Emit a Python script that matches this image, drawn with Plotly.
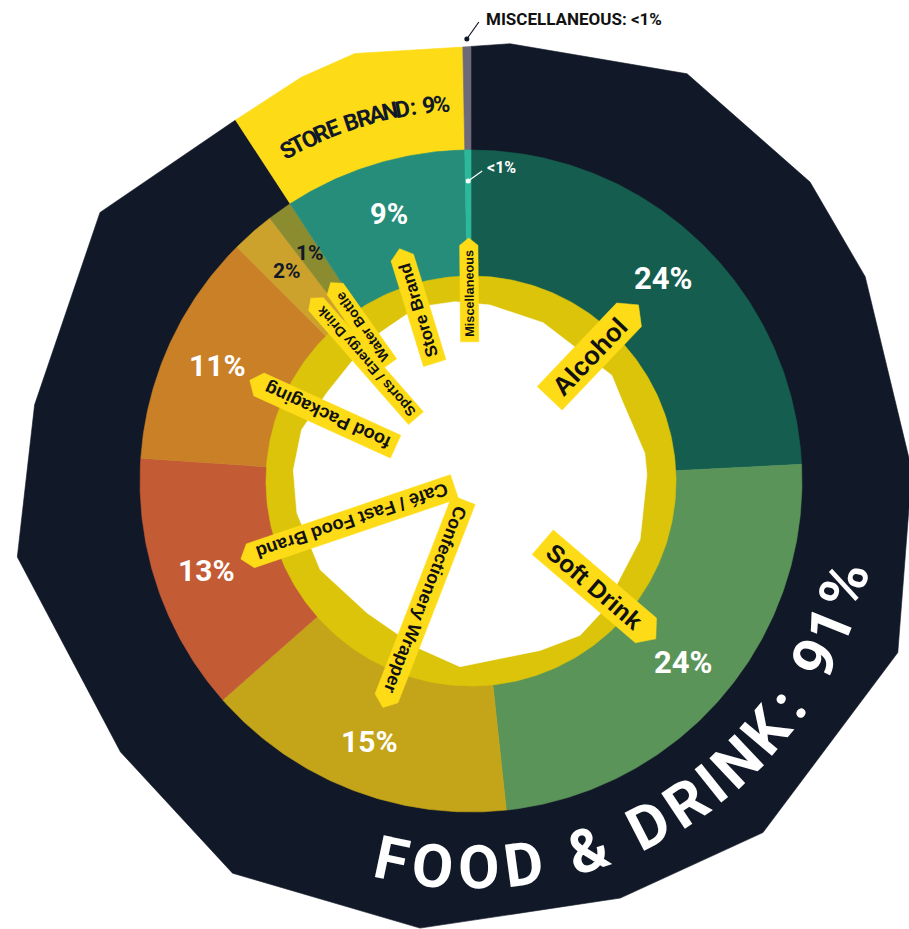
import math
import plotly.graph_objects as go

# ---------------- data ----------------
categories = ["Alcohol", "Soft Drink", "Confectionery Wrapper", "Café / Fast Food Brand",
              "food Packaging", "Sports / Energy Drink", "Water Bottle", "Store Brand",
              "Miscellaneous"]
shares = [24.2, 24.1, 15.2, 12.6, 11.4, 2.1, 1.2, 8.9, 0.3]
category_group = ["Food & Drink"] * 7 + ["Store Brand", "Miscellaneous"]

groups = ["Food & Drink", "Store Brand", "Miscellaneous"]
group_shares = [round(sum(s for s, g in zip(shares, category_group) if g == name), 1)
                for name in groups]

# ---------------- style ----------------
CX, CY = 471, 481          # centre of the wheel (px)
R_HOLE = 205               # outer radius of the yellow ring
R_RING = 331               # outer radius of the category ring
R_TAG_TIP = 243            # radius where the name tags point to
R_PCT = 279                # radius of the percentage labels

NAVY = "#111827"
TAG_YELLOW = "#fddc17"
RING_YELLOW = "#dbc40a"
DISPLAY_FONT = "Roboto"

category_colors = ["#155e4f", "#5a9459", "#c4a418", "#c35b35", "#c98026",
                   "#cca22c", "#8b8b30", "#258d7a", "#2cb89a"]
pct_colors = ["white", "white", "white", "white", "white", NAVY, NAVY, "white", "white"]
pct_sizes = [31, 31, 30, 30, 30, 21, 21, 29, 16]
tag_font_sizes = [26, 24.5, 18, 18.4, 18.3, 13.8, 13.9, 17, 12.7]
group_colors = [NAVY, TAG_YELLOW, "#6e6a78"]

# hand-cut outer border: (angle clockwise from 12 o'clock, radius)
OUTER_EDGE = [(5.1, 439), (27.95, 461), (48.6, 452), (62.6, 444), (88.6, 441),
              (111.9, 460), (140.3, 457), (160.3, 443), (186.5, 450), (211.3, 459),
              (232.3, 443), (260.5, 460), (279.9, 443), (305.9, 458), (326.9, 431),
              (337.2, 438), (344.8, 443), (358.7, 434)]
# hand-cut white centre
INNER_EDGE = [(6.2, 177), (24.5, 174), (53.1, 176), (62.5, 171), (80.9, 176), (88, 176),
              (109.2, 179), (134.3, 185), (144.7, 189), (157.8, 183), (183.4, 186),
              (198, 175), (218.2, 168), (239.5, 175), (259.6, 177), (273.5, 178),
              (286.8, 177), (301.4, 169), (315.7, 169), (328.4, 174), (342.8, 182),
              (354.9, 180)]

# Arial/Liberation Sans Bold advance widths (1/1000 em)
BOLD_W = {' ': 278, '/': 278, '&': 722, ':': 333, '%': 889, '<': 584,
          'A': 722, 'B': 722, 'C': 722, 'D': 722, 'E': 667, 'F': 611, 'I': 278,
          'K': 722, 'L': 611, 'M': 833, 'N': 722, 'O': 778, 'P': 667, 'R': 722,
          'S': 667, 'T': 611, 'U': 722, 'W': 944,
          'a': 556, 'b': 611, 'c': 556, 'd': 611, 'e': 556, 'f': 333, 'g': 611,
          'h': 611, 'i': 278, 'k': 556, 'l': 278, 'n': 611, 'o': 611, 'p': 611,
          'r': 389, 's': 556, 't': 333, 'u': 611, 'y': 556, 'é': 556}


def text_width(s, size):
    return sum(BOLD_W.get(c, 556) for c in s) / 1000 * size


def fmt_pct(v):
    return "<1%" if v < 1 else f"{round(v)}%"


def polar(theta, r):
    t = math.radians(theta)
    return CX + r * math.sin(t), CY - r * math.cos(t)


def arc(t0, t1, r, step=0.5):
    n = max(2, int(abs(t1 - t0) / step) + 1)
    return [polar(t0 + (t1 - t0) * i / (n - 1), r) for i in range(n)]


def edge_point(knots, theta):
    ks = sorted(knots)
    ext = [(ks[-1][0] - 360, ks[-1][1])] + ks + [(ks[0][0] + 360, ks[0][1])]
    th = theta % 360
    if theta >= 360:
        th = 360
    for (a0, r0), (a1, r1) in zip(ext[:-1], ext[1:]):
        if a0 <= th <= a1:
            x0, y0 = polar(a0, r0)
            x1, y1 = polar(a1, r1)
            dx, dy = math.sin(math.radians(th)), -math.cos(math.radians(th))
            ex, ey = x1 - x0, y1 - y0
            rx, ry = x0 - CX, y0 - CY
            det = -dx * ey + dy * ex
            s = (-rx * ey + ry * ex) / det
            return CX + s * dx, CY + s * dy
    return polar(theta, ks[0][1])


def edge_path(knots, t0, t1):
    pts = [edge_point(knots, t0)]
    pts += [polar(a, r) for a, r in sorted(knots) if t0 < a < t1]
    pts.append(edge_point(knots, t1))
    return pts


def poly_trace(pts, color):
    xs = [p[0] for p in pts] + [pts[0][0]]
    ys = [p[1] for p in pts] + [pts[0][1]]
    return go.Scatter(x=xs, y=ys, mode="lines", fill="toself", fillcolor=color,
                      line=dict(color=color, width=0.6), hoverinfo="skip",
                      showlegend=False)


def norm_angle(a):
    return (a + 180) % 360 - 180


fig = go.Figure()
annotations = []

# ---- angular extents from the shares ----
total = sum(shares)
cat_bounds = []
acc = 0.0
for v in shares:
    t0 = acc / total * 360
    acc += v
    cat_bounds.append((t0, acc / total * 360))

grp_bounds = []
acc = 0.0
for v in group_shares:
    t0 = acc / total * 360
    acc += v
    grp_bounds.append((t0, acc / total * 360))

# ---- outer ring: groups ----
for (t0, t1), color in zip(grp_bounds, group_colors):
    pts = arc(t0, t1, R_RING - 1) + edge_path(OUTER_EDGE, t0, t1)[::-1]
    fig.add_trace(poly_trace(pts, color))

# ---- category ring ----
for (t0, t1), color in zip(cat_bounds, category_colors):
    pts = arc(t0, t1, R_RING) + arc(t1, t0, R_HOLE - 2)
    fig.add_trace(poly_trace(pts, color))

# ---- yellow ring and white centre ----
fig.add_trace(poly_trace(arc(0, 360, R_HOLE, step=1), RING_YELLOW))
fig.add_trace(poly_trace([polar(a, r) for a, r in sorted(INNER_EDGE)], "white"))

# ---- name tags ----
for name, (t0, t1), fs in zip(categories, cat_bounds, tag_font_sizes):
    mid = (t0 + t1) / 2
    w = text_width(name, fs)
    half = fs * 0.6 + 1.5
    tip = half * 0.8
    pad = fs * 0.38
    r_out = R_TAG_TIP - tip
    r_in = r_out - w - 2 * pad
    t = math.radians(mid)
    nx, ny = math.cos(t), math.sin(t)
    a_in = polar(mid, r_in)
    a_out = polar(mid, r_out)
    a_tip = polar(mid, R_TAG_TIP)
    pts = [(a_in[0] + half * nx, a_in[1] + half * ny),
           (a_out[0] + half * nx, a_out[1] + half * ny),
           a_tip,
           (a_out[0] - half * nx, a_out[1] - half * ny),
           (a_in[0] - half * nx, a_in[1] - half * ny)]
    fig.add_trace(poly_trace(pts, TAG_YELLOW))
    cx, cy = polar(mid, (r_in + r_out) / 2)
    annotations.append(dict(x=cx, y=cy, text=name, showarrow=False,
                            textangle=norm_angle(mid - 90),
                            xanchor="center", yanchor="middle",
                            font=dict(family="Liberation Sans, Arial", size=fs,
                                      color="#111111", weight="bold")))

# ---- category percentages ----
for (t0, t1), v, col, fs in zip(cat_bounds, shares, pct_colors, pct_sizes):
    mid = (t0 + t1) / 2
    if v < 1:
        dot = polar(mid, 300)
        end = (dot[0] + 14, dot[1] - 10)
        fig.add_trace(go.Scatter(x=[dot[0], end[0]], y=[dot[1], end[1]], mode="lines",
                                 line=dict(color="white", width=1.2), hoverinfo="skip",
                                 showlegend=False))
        fig.add_trace(go.Scatter(x=[dot[0]], y=[dot[1]], mode="markers",
                                 marker=dict(color="white", size=5), hoverinfo="skip",
                                 showlegend=False))
        annotations.append(dict(x=end[0] + 3, y=end[1] - 4, text=fmt_pct(v), showarrow=False,
                                xanchor="left", yanchor="middle",
                                font=dict(family=DISPLAY_FONT, size=fs, color=col,
                                          weight="bold")))
        continue
    x, y = polar(mid, R_PCT)
    annotations.append(dict(x=x, y=y, text=fmt_pct(v), showarrow=False,
                            xanchor="center", yanchor="middle",
                            font=dict(family=DISPLAY_FONT, size=fs, color=col,
                                      weight="bold")))


# ---- curved group titles ----
def curved_text(text, a_first, a_last, radius, size, color, inward, tracking):
    adv = [BOLD_W.get(c, 556) / 1000 * size + tracking for c in text]
    centres = []
    acc = 0.0
    for a in adv:
        centres.append(acc + a / 2)
        acc += a
    span = centres[-1] - centres[0]
    for ch, c in zip(text, centres):
        if ch == " ":
            continue
        theta = a_first + (a_last - a_first) * (c - centres[0]) / span
        x, y = polar(theta, radius)
        rot = theta - 180 if inward else theta
        annotations.append(dict(x=x, y=y, text=ch, showarrow=False,
                                textangle=norm_angle(rot),
                                xanchor="center", yanchor="middle",
                                font=dict(family=DISPLAY_FONT, size=size, color=color,
                                          weight="bold")))


curved_text(f"{groups[0].upper()}: {fmt_pct(group_shares[0])}", 191.9, 105.6, 387,
            60, "white", True, 12)
curved_text(f"{groups[1].upper()}: {fmt_pct(group_shares[1])}", 331.0, 355.5, 378,
            23, NAVY, False, 4)

# ---- miscellaneous call-out above the wheel ----
m0, m1 = grp_bounds[2]
dot = polar((m0 + m1) / 2, 442)
end = (dot[0] + 12, dot[1] - 17)
fig.add_trace(go.Scatter(x=[dot[0], end[0]], y=[dot[1], end[1]], mode="lines",
                         line=dict(color=NAVY, width=1.2), hoverinfo="skip",
                         showlegend=False))
fig.add_trace(go.Scatter(x=[dot[0]], y=[dot[1]], mode="markers",
                         marker=dict(color=NAVY, size=5), hoverinfo="skip",
                         showlegend=False))
annotations.append(dict(x=end[0] + 5, y=end[1] - 3,
                        text=f"{groups[2].upper()}: {fmt_pct(group_shares[2])}",
                        showarrow=False, xanchor="left", yanchor="middle",
                        font=dict(family=DISPLAY_FONT, size=17, color="#111111",
                                  weight="bold")))

fig.update_layout(
    width=909, height=929,
    margin=dict(l=0, r=0, t=0, b=0),
    paper_bgcolor="white", plot_bgcolor="white",
    showlegend=False,
    xaxis=dict(range=[0, 909], visible=False, fixedrange=True),
    yaxis=dict(range=[929, 0], visible=False, fixedrange=True),
    annotations=annotations,
)

fig.write_html("out.html")
